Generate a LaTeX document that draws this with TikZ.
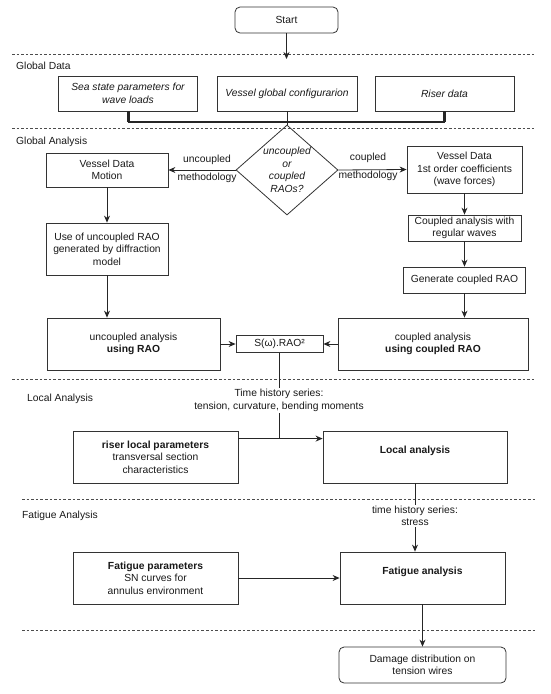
\documentclass[tikz,border=0pt]{standalone}
\usepackage{fontspec}
\setmainfont{Liberation Sans}
\usetikzlibrary{arrows.meta,shapes.geometric,calc}
\begin{document}
\begin{tikzpicture}[x=1pt,y=-1pt,
  every node/.style={font=\fontsize{10.3}{12.6}\selectfont, text=black!90},
  itf/.style={font=\fontsize{10.3}{12.6}\selectfont\itshape},
  bff/.style={font=\fontsize{10.3}{12.6}\selectfont\bfseries},
  box/.style={draw=black!80, line width=0.8pt, align=center, inner sep=0pt},
  rbox/.style={box, rounded corners=5pt},
  dline/.style={draw=black!70, line width=0.8pt, dash pattern=on 2.6pt off 2pt},
  conn/.style={draw=black!85, line width=0.8pt},
  arr/.style={conn, -{Stealth[length=7pt,width=6pt]}},
  lbl/.style={align=center, inner sep=1pt},
  sec/.style={anchor=west, inner sep=0pt},
]
\useasboundingbox (0,0) rectangle (550,694);

% dashed section separators
\coordinate (d1l) at (12,54.5);  \coordinate (d1r) at (535,54.5);
\coordinate (d2l) at (12,128);   \coordinate (d2r) at (535,128);
\coordinate (d3l) at (12,379);   \coordinate (d3r) at (535,379);
\coordinate (d4l) at (22,499);   \coordinate (d4r) at (535,499);
\coordinate (d5l) at (22,630);   \coordinate (d5r) at (535,630);
\draw[dline] (d1l) -- (d1r);
\draw[dline] (d2l) -- (d2r);
\draw[dline] (d3l) -- (d3r);
\draw[dline] (d4l) -- (d4r);
\draw[dline] (d5l) -- (d5r);

% section labels
\node[sec] (sgd) at (16,66) {Global Data};
\node[sec] (sga) at (16,142) {Global Analysis};
\node[sec] (sla) at (27,399) {Local Analysis};
\node[sec] (sfa) at (22,516) {Fatigue Analysis};

% start
\node[rbox, minimum width=103pt, minimum height=26pt] (start) at (286.5,20) {Start};
\coordinate (startend) at (286.5,59);
\draw[arr] (start.south) -- (startend);

% global data
\node[box, itf, minimum width=139pt, minimum height=35pt] (sea) at (128,93.5) {Sea state parameters for\\wave loads};
\node[box, itf, minimum width=140pt, minimum height=35pt] (vg) at (287,93.5) {Vessel global configurarion};
\node[box, itf, minimum width=139pt, minimum height=35pt] (rd) at (444.5,93.5) {Riser data};
\coordinate (bl) at (sea.south |- 0,122);
\coordinate (br) at (rd.south |- 0,122);
\draw[conn, line width=1.6pt] (bl) -- (br);
\draw[conn, line width=3pt] (sea.south) -- (bl);
\draw[conn, line width=3pt] (rd.south) -- (br);

% decision
\node[draw=black!80, line width=0.8pt, diamond, minimum width=102pt, minimum height=90pt, inner sep=0pt] (dia) at (287,170) {};
\node[lbl, itf, inner sep=0pt] (diat) at (287,170) {uncoupled\\or\\coupled\\RAOs?};
\draw[conn] (vg.south) -- (dia.north);

% left column
\node[box, minimum width=122pt, minimum height=34pt] (motion) at (107,170) {Vessel Data\\Motion};
\node[box, minimum width=122pt, minimum height=52pt] (use) at (107,249) {Use of uncoupled RAO\\generated by diffraction\\model};
\node[box, minimum width=173pt, minimum height=52pt] (ua) at (133.5,344) {uncoupled analysis\\\textbf{using RAO}};

% right column
\node[box, minimum width=115pt, minimum height=47pt] (vdr) at (464.5,169.5) {Vessel Data\\1st order coefficients\\(wave forces)};
\node[box, minimum width=113pt, minimum height=26pt] (crw) at (464.5,228) {Coupled analysis with\\regular waves};
\node[box, minimum width=122pt, minimum height=26pt] (gen) at (464.5,280) {Generate coupled RAO};
\node[box, minimum width=190pt, minimum height=52pt] (ca) at (433,344) {coupled analysis\\\textbf{using coupled RAO}};

% spectrum box
\node[box, minimum width=87pt, minimum height=17pt] (s) at (279.5,344) {S(ω).RAO²};

% decision branches
\draw[arr] (dia.west) -- (motion.east);
\node[lbl] (lu1) at (207,160) {uncoupled};
\node[lbl] (lu2) at (207,178) {methodology};
\draw[arr] (dia.east) -- (vdr.west);
\node[lbl] (lc1) at (368,158) {coupled};
\node[lbl] (lc2) at (368,176) {methodology};

\draw[arr] (motion.south) -- (use.north);
\draw[arr] (use.south) -- (use.south |- ua.north);
\draw[arr] (ua.east) -- (s.west);
\draw[arr] (vdr.south) -- (crw.north);
\draw[arr] (crw.south) -- (gen.north);
\draw[arr] (gen.south) -- (gen.south |- ca.north);
\draw[arr] (ca.west) -- (s.east);

% local analysis
\node[box, minimum width=165pt, minimum height=52pt] (rl) at (155.5,457) {\textbf{riser local parameters}\\transversal section\\characteristics};
\node[box, minimum width=184pt, minimum height=52pt] (la) at (415,457) {};
\node[lbl, bff] (lat) at (415,451) {Local analysis};
\coordinate (rle) at ($(rl.north east)+(0,8)$);
\coordinate (j) at (s.south |- rle);
\draw[conn] (s.south) -- (j);
\draw[conn] (rle) -- (j);
\draw[arr, line width=1.6pt] (j) -- (j -| la.west);
\node[lbl, fill=white] (th1) at (279,400.5) {Time history series:\\tension, curvature, bending moments};

% fatigue analysis
\node[box, minimum width=165pt, minimum height=52pt] (fp) at (155.5,578) {\textbf{Fatigue parameters}\\SN curves for\\annulus environment};
\node[box, minimum width=165pt, minimum height=52pt] (fa) at (422.5,578) {};
\node[lbl, bff] (fat) at (422.5,572) {Fatigue analysis};
\draw[arr] (la.south) -- (la.south |- fa.north);
\node[lbl, fill=white] (th2) at (415,516) {time history series:\\stress};
\draw[arr] (fp.east) -- (fa.west);

% end
\node[rbox, minimum width=167pt, minimum height=36pt] (dm) at (422.5,665) {Damage distribution on\\tension wires};
\draw[arr] (fa.south) -- (dm.north);
\end{tikzpicture}
\end{document}
